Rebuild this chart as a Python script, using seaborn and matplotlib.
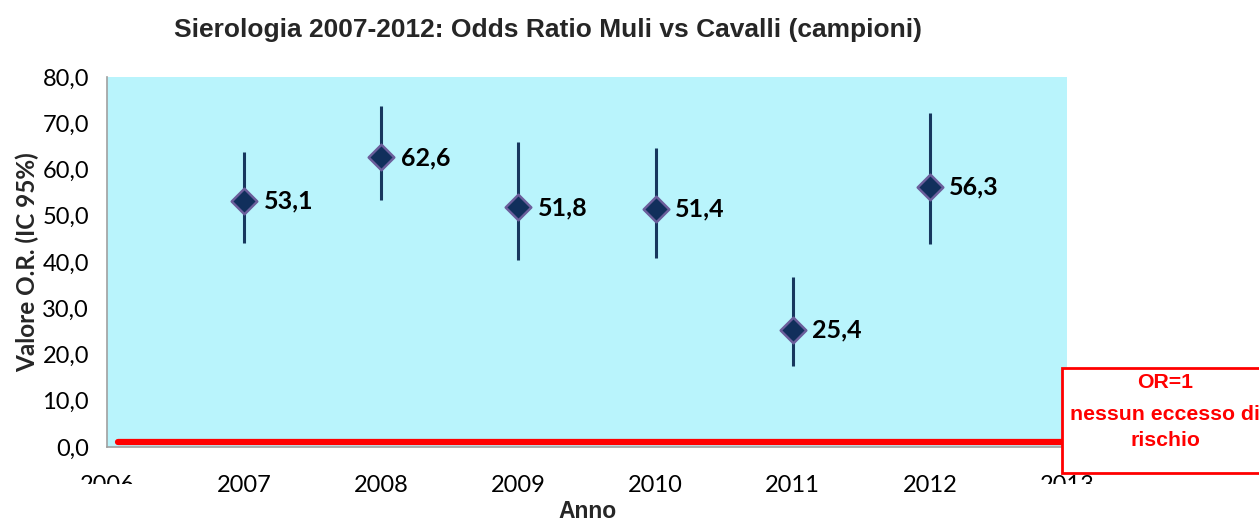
import numpy as np
import pandas as pd
import matplotlib
matplotlib.use('Agg')
import matplotlib.pyplot as plt
import seaborn as sns
from matplotlib.patches import Rectangle
from matplotlib.ticker import FuncFormatter

# dati
anni = [2007, 2008, 2009, 2010, 2011, 2012]
odds_ratio = [53.1, 62.6, 51.8, 51.4, 25.4, 56.3]
ic_inf = [44.1, 53.4, 40.4, 40.9, 17.5, 43.9]
ic_sup = [63.8, 73.7, 65.9, 64.6, 36.8, 72.2]
etichette = ['53,1', '62,6', '51,8', '51,4', '25,4', '56,3']
x_ticks = [2006, 2007, 2008, 2009, 2010, 2011, 2012, 2013]
y_ticks = [0, 10, 20, 30, 40, 50, 60, 70, 80]

df = pd.DataFrame({'Anno': anni, 'OR': odds_ratio, 'inf': ic_inf, 'sup': ic_sup})

sns.set_style('white')
plt.rcParams['font.family'] = ['Lato', 'DejaVu Sans']

fig = plt.figure(figsize=(12.59, 5.21), dpi=100)
ax = fig.add_axes([107 / 1259, 1 - 447 / 521, 960 / 1259, 370 / 521])
ax.set_facecolor('#B9F4FC')

# intervalli di confidenza
ax.vlines(df['Anno'], df['inf'], df['sup'], color='#17375E', lw=2.2, zorder=2)
sns.scatterplot(data=df, x='Anno', y='OR', marker='D', s=170, color='#112F5C',
                edgecolor='#6B5E9B', linewidth=1.8, ax=ax, zorder=3)

for a, v, t in zip(anni, odds_ratio, etichette):
    ax.annotate(t, (a, v), xytext=(14, 0), textcoords='offset points',
                ha='left', va='center', fontsize=18, fontweight='bold', color='black')

# linea OR=1
ax.axhline(1, xmin=0.011, xmax=1.0, color='#FF0000', lw=4.5, zorder=2)

ax.set_xlim(2006, 2013)
ax.set_ylim(0, 80)
ax.set_xticks(x_ticks)
ax.set_yticks(y_ticks)
ax.yaxis.set_major_formatter(FuncFormatter(lambda v, p: f'{v:.1f}'.replace('.', ',')))
ax.tick_params(axis='both', labelsize=17, colors='#A0A0A0', labelcolor='black',
               width=1.2, direction='out')
ax.tick_params(axis='x', length=6, pad=14)
ax.tick_params(axis='y', length=5, pad=8)
for s in ['top', 'right']:
    ax.spines[s].set_visible(False)
for s in ['left', 'bottom']:
    ax.spines[s].set_color('#A0A0A0')
    ax.spines[s].set_linewidth(1.2)

ax.set_xlabel('')
ax.set_ylabel('Valore O.R. (IC 95%)', fontsize=17.5, fontweight='bold', labelpad=2)
fig.text(587 / 1259, 1 - 512 / 521, 'Anno', ha='center', va='center',
         fontsize=16.5, fontweight='bold', family='Liberation Sans')

fig.text(548 / 1259, 1 - 30 / 521, 'Sierologia 2007-2012: Odds Ratio Muli vs Cavalli (campioni)',
         ha='center', va='center', fontsize=19, fontweight='bold', family='Liberation Sans')

# etichette 2006 e 2013 tagliate
for x0 in [60 / 1259, 1020 / 1259]:
    fig.patches.append(Rectangle((x0, 1 - 502 / 521), 90 / 1259, 18 / 521,
                                 transform=fig.transFigure, facecolor='white',
                                 edgecolor='none', zorder=10))

# riquadro OR=1
fig.patches.append(Rectangle((1062 / 1259, 1 - 473 / 521), 0.2, 105 / 521,
                             transform=fig.transFigure, facecolor='white',
                             edgecolor='#FF0000', lw=2, zorder=10))
for yy, t in [(383, 'OR=1'), (414, 'nessun eccesso di'), (440, 'rischio')]:
    fig.text(1165 / 1259, 1 - yy / 521, t, ha='center', va='center', fontsize=15.3,
             fontweight='bold', color='#FF0000', family='Liberation Sans', zorder=11)

fig.savefig('out.png', dpi=100)
